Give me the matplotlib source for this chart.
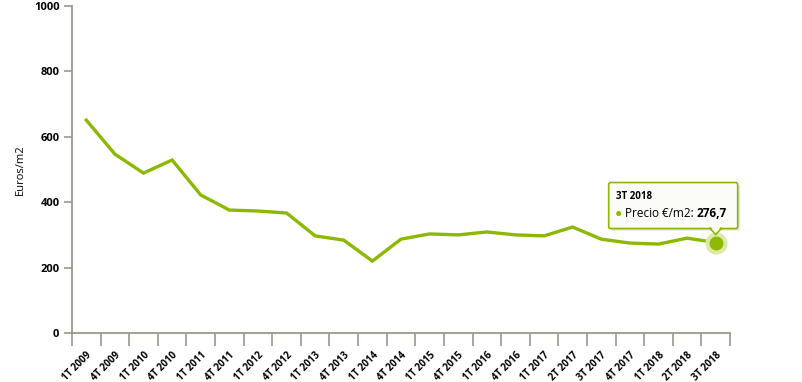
import numpy as np
import matplotlib
matplotlib.use("Agg")
from matplotlib import pyplot as plt
from matplotlib.patches import FancyBboxPatch, Polygon, Circle
from matplotlib.transforms import IdentityTransform

trimestres = ['1T 2009', '4T 2009', '1T 2010', '4T 2010', '1T 2011', '4T 2011',
              '1T 2012', '4T 2012', '1T 2013', '4T 2013', '1T 2014', '4T 2014',
              '1T 2015', '4T 2015', '1T 2016', '4T 2016', '1T 2017', '2T 2017',
              '3T 2017', '4T 2017', '1T 2018', '2T 2018', '3T 2018']
precio = [651, 547, 489, 529, 422, 376, 373, 367, 297, 284, 220, 287,
          303, 300, 309, 300, 297, 324, 287, 275, 272, 290, 276.7]

verde = '#8cb800'
gris = '#999988'

plt.rcParams['font.family'] = ['Open Sans', 'DejaVu Sans']

fig = plt.figure(figsize=(8.03, 3.82), dpi=100)
ax = fig.add_axes([72 / 803, 49 / 382, 658 / 803, 327 / 382])

x = np.arange(len(precio))
ax.plot(x, precio, color=verde, lw=2.4, solid_joinstyle='miter', zorder=3)

ax.set_xlim(-0.5, len(precio) - 0.5)
ax.set_ylim(0, 1000)
ax.set_yticks([0, 200, 400, 600, 800, 1000])
ax.set_yticklabels(['0', '200', '400', '600', '800', '1000'], fontweight='bold', fontsize=8)
ax.set_xticks(x)
ax.set_xticklabels(trimestres, rotation=45, ha='right', va='top', fontweight='bold',
                   fontsize=7, rotation_mode='anchor')
ax.set_xticks(np.arange(len(precio) + 1) - 0.5, minor=True)
ax.tick_params(axis='x', which='major', length=0, pad=12)
ax.tick_params(axis='x', which='minor', length=9, color=gris, width=1.2)
ax.tick_params(axis='y', length=6, color=gris, width=1.2, pad=3)
for s in ['top', 'right']:
    ax.spines[s].set_visible(False)
for s in ['left', 'bottom']:
    ax.spines[s].set_color(gris)
    ax.spines[s].set_linewidth(1.3)
ax.set_ylabel('Euros/m2', fontsize=8)
ax.yaxis.set_label_coords(-0.07, 0.5)

# marcador resaltado del último punto
ax.plot(x[-1], precio[-1], 'o', ms=16, color='#dde9ab', mec='none', zorder=4, clip_on=False)
ax.plot(x[-1], precio[-1], 'o', ms=10, color=verde, mec='none', zorder=5, clip_on=False)

# tooltip
fig.canvas.draw()
px, py = ax.transData.transform((x[-1], precio[-1]))
idt = IdentityTransform()
sombra = FancyBboxPatch((px - 105, py + 12), 129, 46, boxstyle='round,pad=0,rounding_size=2',
                        transform=idt, fc='#bbbbbb', ec='none', alpha=0.5, zorder=6)
fig.patches.append(sombra)
caja = FancyBboxPatch((px - 107, py + 14), 129, 46, boxstyle='round,pad=0,rounding_size=2',
                      transform=idt, fc='#fbfbf7', ec=verde, lw=1.2, zorder=7)
fig.patches.append(caja)
flecha = Polygon([(px - 6, py + 14.5), (px + 6, py + 14.5), (px, py + 8)], closed=True,
                 transform=idt, fc='#fbfbf7', ec=verde, lw=1.2, zorder=8)
fig.patches.append(flecha)
fig.patches.append(Polygon([(px - 5, py + 15.5), (px + 5, py + 15.5), (px, py + 10)], closed=True,
                           transform=idt, fc='#fbfbf7', ec='none', zorder=9))
fig.text(px - 100, py + 46, trimestres[-1], transform=idt, fontsize=7, fontweight='bold',
         va='center', ha='left', zorder=10)
fig.patches.append(Circle((px - 97, py + 29), 2.5, transform=idt, fc=verde, ec='none', zorder=10))
t1 = fig.text(px - 91, py + 29, 'Precio €/m2: ', transform=idt, fontsize=8.5, va='center',
              ha='left', zorder=10)
fig.canvas.draw()
bb = t1.get_window_extent()
fig.text(bb.x1, py + 29, f'{precio[-1]:.1f}'.replace('.', ','), transform=idt, fontsize=8.5,
         fontweight='bold', va='center', ha='left', zorder=10)

fig.savefig('out.png', dpi=100)
